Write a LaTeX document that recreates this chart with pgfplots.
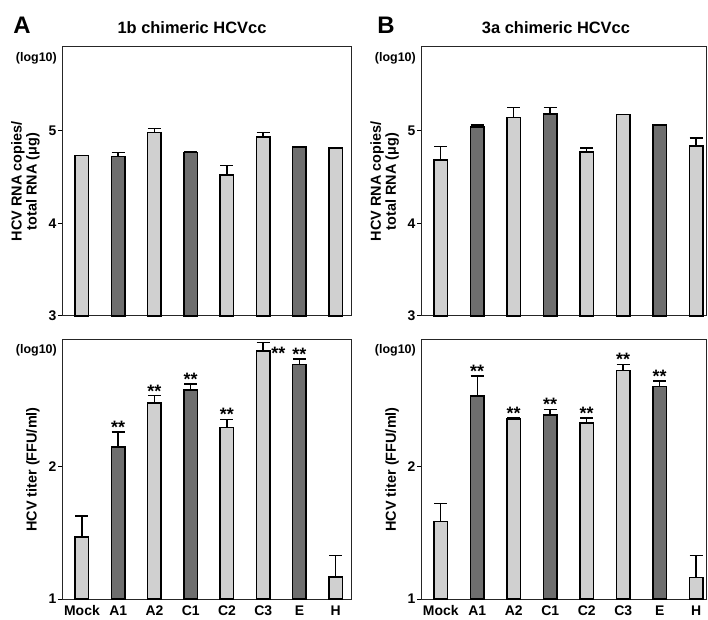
\documentclass[border=0pt]{standalone}
\usepackage{pgfplots}
\pgfplotsset{compat=1.18}
\usepackage{fontspec}
\setmainfont{Liberation Sans}
\definecolor{lightbar}{HTML}{D0D0D0}
\definecolor{darkbar}{HTML}{6E6E6E}
\newcommand{\lab}{\fontsize{14}{16}\selectfont\bfseries}
\newcommand{\loglab}{\fontsize{12.5}{14}\selectfont\bfseries}
\newcommand{\ylab}{\fontsize{14.5}{15}\selectfont\bfseries}
\begin{document}
\begin{tikzpicture}
\useasboundingbox (0bp,0bp) rectangle (708bp,620bp);
\pgfplotsset{
  panel/.style={
    scale only axis, anchor=south west,
    axis line style={line width=1bp, black!85},
    ytick pos=left, tick align=outside, major tick length=4bp,
    every tick/.style={black, line width=1bp},
    /pgf/number format/assume math mode=true,
    ticklabel style={font=\lab},
    yticklabel style={xshift=2bp},
    ylabel style={font=\ylab, align=center, at={(axis description cs:-0.065,0.5)}, anchor=south},
    clip=false,
  },
  bars/.style={ybar, bar width=13.5bp, bar shift=0pt, draw=black, line width=1.5bp, fill=#1,
    error bars/.cd, y dir=plus, y explicit,
    error bar style={line width=1.4bp, black},
    error mark options={line width=1.4bp, black, mark size=6.5bp, rotate=90}},
  stars/.style={draw=none, mark=none, nodes near coords={**},
    every node near coord/.style={anchor=south, inner sep=0pt, yshift=-1.5bp, font=\fontsize{18}{18}\selectfont\bfseries}},
}
% ---------- A top ----------
\begin{axis}[panel, at={(62bp,304bp)}, width=290bp, height=269bp,
  xmin=-0.55, xmax=7.45, ymin=3, ymax=5.9, ytick={3,4,5}, xtick=\empty,
  ylabel={HCV RNA copies/\\total RNA (μg)}]
\addplot[bars=lightbar] coordinates {(0,4.73) +- (0,0.0) (2,4.98) +- (0,0.04) (4,4.52) +- (0,0.10) (5,4.93) +- (0,0.05) (7,4.81) +- (0,0.0)};
\addplot[bars=darkbar] coordinates {(1,4.72) +- (0,0.04) (3,4.76) +- (0,0.01) (6,4.82) +- (0,0.0)};
\node[anchor=north east, font=\loglab, inner sep=0pt] at (rel axis cs:0,1) [xshift=-5bp, yshift=-5bp] {(log10)};
\end{axis}
% ---------- A bottom ----------
\begin{axis}[panel, at={(62bp,21bp)}, width=290bp, height=259bp,
  xmin=-0.55, xmax=7.45, ymin=1, ymax=2.95, ytick={1,2},
  xtick={0,...,7}, xticklabels={Mock,A1,A2,C1,C2,C3,E,H},
  xtick style={draw=none}, xticklabel style={yshift=1bp},
  ylabel={HCV titer (FFU/ml)}]
\addplot[bars=lightbar] coordinates {(0,1.465) +- (0,0.16) (2,2.475) +- (0,0.055) (4,2.293) +- (0,0.058) (5,2.869) +- (0,0.06) (7,1.167) +- (0,0.16)};
\addplot[bars=darkbar] coordinates {(1,2.146) +- (0,0.112) (3,2.573) +- (0,0.046) (6,2.765) +- (0,0.041)};
\addplot[stars] coordinates {(1,2.258) (2,2.53) (3,2.619) (4,2.351) (6,2.806)};
\addplot[stars, every node near coord/.append style={anchor=west, xshift=8bp, yshift=-5bp}] coordinates {(5,2.90)};
\node[anchor=north east, font=\loglab, inner sep=0pt] at (rel axis cs:0,1) [xshift=-5bp, yshift=-4bp] {(log10)};
\end{axis}
% ---------- B top ----------
\begin{axis}[panel, at={(421bp,304bp)}, width=285bp, height=269bp,
  xmin=-0.54, xmax=7.27, ymin=3, ymax=5.9, ytick={3,4,5}, xtick=\empty,
  ylabel={HCV RNA copies/\\total RNA (μg)}]
\addplot[bars=lightbar] coordinates {(0,4.68) +- (0,0.15) (2,5.14) +- (0,0.11) (4,4.77) +- (0,0.04) (5,5.17) +- (0,0.0) (7,4.83) +- (0,0.09)};
\addplot[bars=darkbar] coordinates {(1,5.04) +- (0,0.02) (3,5.18) +- (0,0.07) (6,5.06) +- (0,0.0)};
\node[anchor=north east, font=\loglab, inner sep=0pt] at (rel axis cs:0,1) [xshift=-5bp, yshift=-5bp] {(log10)};
\end{axis}
% ---------- B bottom ----------
\begin{axis}[panel, at={(421bp,21bp)}, width=285bp, height=259bp,
  xmin=-0.54, xmax=7.27, ymin=1, ymax=2.95, ytick={1,2},
  xtick={0,...,7}, xticklabels={Mock,A1,A2,C1,C2,C3,E,H},
  xtick style={draw=none}, xticklabel style={yshift=1bp},
  ylabel={HCV titer (FFU/ml)}]
\addplot[bars=lightbar] coordinates {(0,1.583) +- (0,0.137) (2,2.354) +- (0,0.01) (4,2.326) +- (0,0.038) (5,2.72) +- (0,0.045) (7,1.162) +- (0,0.164)};
\addplot[bars=darkbar] coordinates {(1,2.53) +- (0,0.15) (3,2.384) +- (0,0.043) (6,2.6) +- (0,0.04)};
\addplot[stars] coordinates {(1,2.68) (2,2.364) (3,2.427) (4,2.364) (5,2.765) (6,2.64)};
\node[anchor=north east, font=\loglab, inner sep=0pt] at (rel axis cs:0,1) [xshift=-5bp, yshift=-4bp] {(log10)};
\end{axis}
% ---------- titles ----------
\node[font=\fontsize{24}{24}\selectfont\bfseries] at (22bp,595bp) {A};
\node[font=\fontsize{24}{24}\selectfont\bfseries] at (386bp,595bp) {B};
\node[font=\fontsize{16.5}{18}\selectfont\bfseries] at (192bp,592bp) {1b chimeric HCVcc};
\node[font=\fontsize{16.5}{18}\selectfont\bfseries] at (556bp,592bp) {3a chimeric HCVcc};
\end{tikzpicture}
\end{document}
